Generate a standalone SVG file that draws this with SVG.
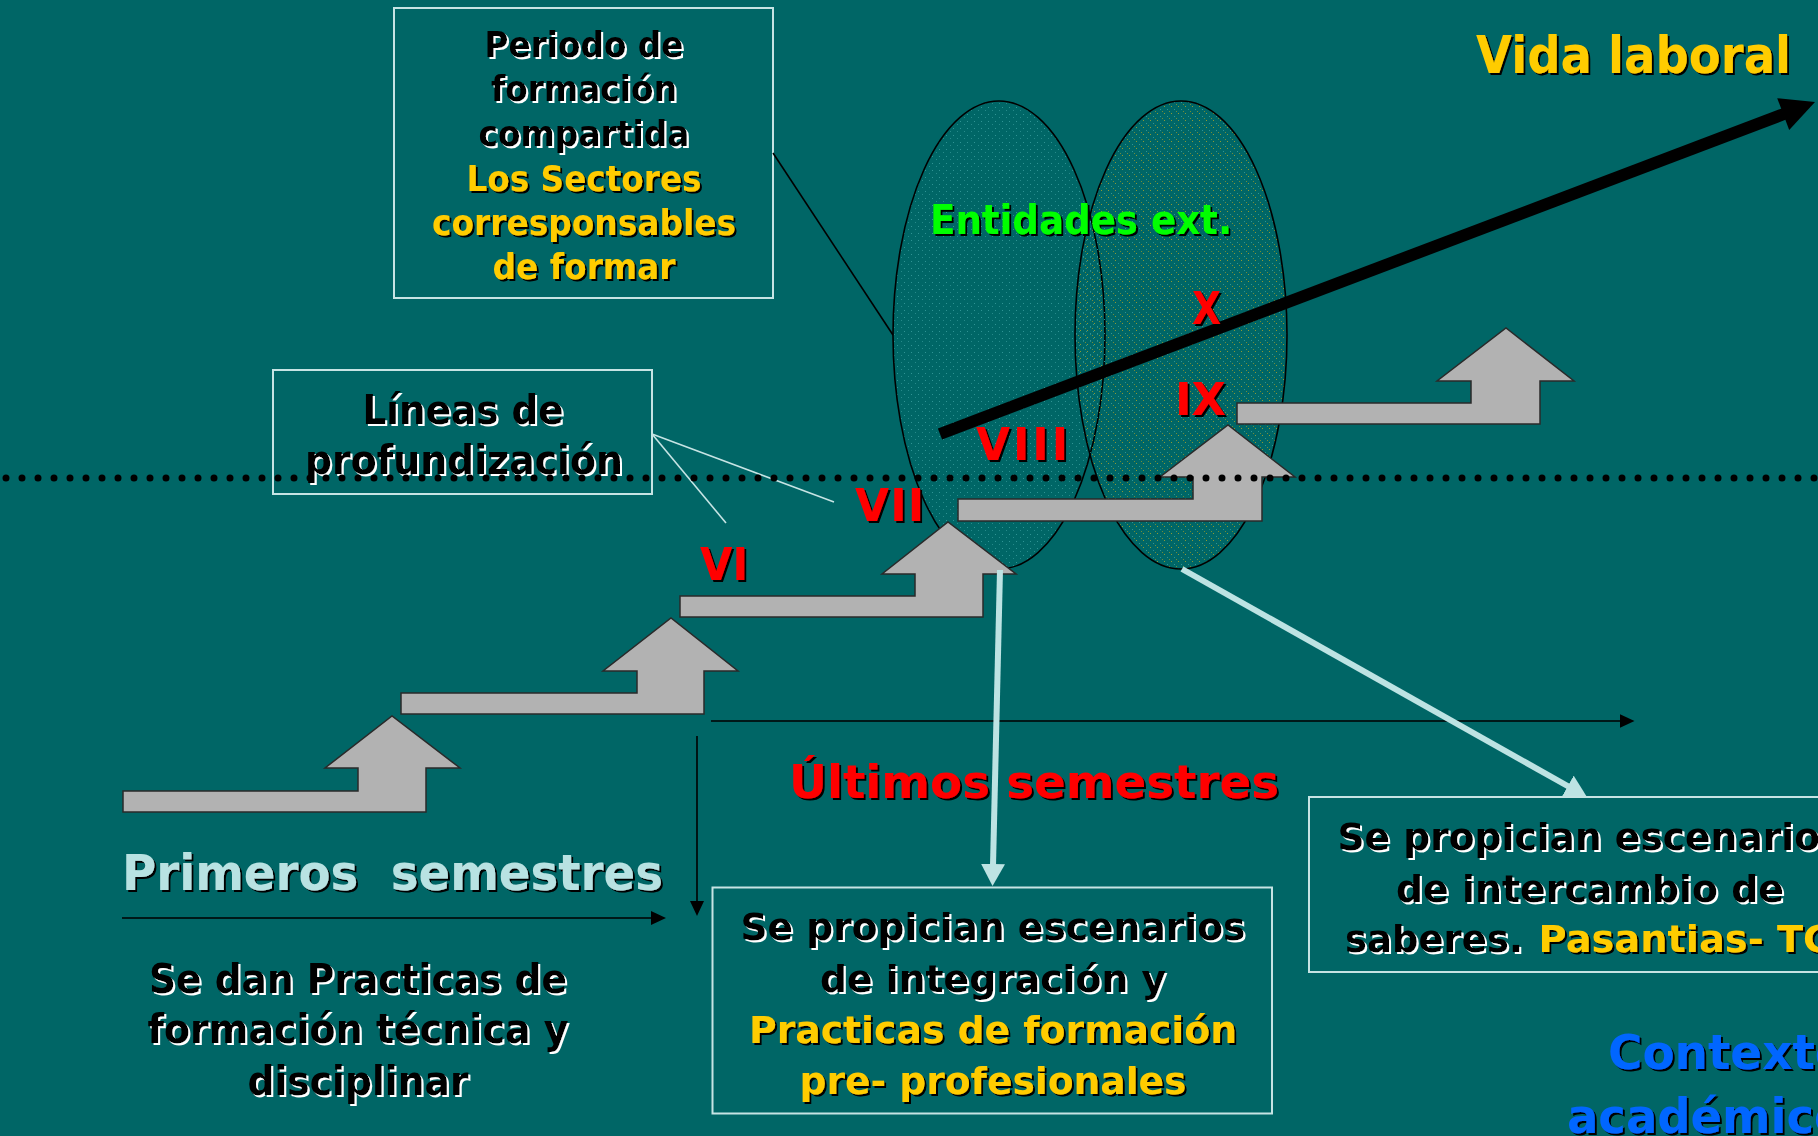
<svg xmlns="http://www.w3.org/2000/svg" width="1818" height="1136" viewBox="0 0 1818 1136">
<style>
.t{font-family:"DejaVu Sans","Liberation Sans",sans-serif;font-weight:bold;}
.c{text-anchor:middle;}
.blk{fill:#000000;filter:url(#shW);}
.yel{fill:#FFCC00;filter:url(#shK);}
.red{fill:#FF0000;filter:url(#shK);}
.grn{fill:#00FF00;filter:url(#shK);}
.cya{fill:#B8E2E2;filter:url(#shK);}
.blu{fill:#0066FF;filter:url(#shK);}
.box{fill:#006666;stroke:#C6E4E4;stroke-width:2;}
.step{fill:#B2B2B2;stroke:#2a2a2a;stroke-width:1.5;stroke-linejoin:miter;}
.thin{stroke:#000;stroke-width:1.6;fill:none;}
.lite{stroke:#C6E4E4;stroke-width:1.6;fill:none;}
.cyan{stroke:#BDE3E3;stroke-width:6;fill:none;}
.ell{stroke:#000;stroke-width:1.6;}
</style>
<defs>
<filter id="shK" x="-5%" y="-20%" width="115%" height="150%"><feDropShadow dx="2" dy="2" stdDeviation="0" flood-color="#000000" flood-opacity="1"/></filter>
<filter id="shW" x="-5%" y="-20%" width="115%" height="150%"><feDropShadow dx="2" dy="2" stdDeviation="0" flood-color="#FFFFFF" flood-opacity="1"/></filter>
<pattern id="dotsL" width="7" height="7" patternUnits="userSpaceOnUse"><rect x="1" y="2" width="1" height="1" fill="#2F9494"/><rect x="5" y="5" width="1" height="1" fill="#268A8A"/></pattern>
<pattern id="dotsR" width="7" height="7" patternUnits="userSpaceOnUse"><rect x="2" y="1" width="1" height="1" fill="#8C9A34"/><rect x="5" y="4" width="1" height="1" fill="#2F9494"/><rect x="0" y="6" width="1" height="1" fill="#6F8C3A"/></pattern>
<marker id="mBlk" markerUnits="userSpaceOnUse" markerWidth="15" markerHeight="14" refX="8" refY="7" orient="auto"><path d="M0,0 L15,7 L0,14 z" fill="#000"/></marker>
<marker id="mCya" markerUnits="userSpaceOnUse" markerWidth="22" markerHeight="24" refX="10" refY="12" orient="auto"><path d="M0,0 L22,12 L0,24 z" fill="#BDE3E3"/></marker>
</defs>
<rect x="0" y="0" width="1818" height="1136" fill="#006666"/>

<g id="ellipse-left"><ellipse cx="999" cy="335" rx="106" ry="234" fill="url(#dotsL)" class="ell"/></g>
<g id="ellipse-right"><ellipse cx="1181" cy="335" rx="106" ry="234" fill="url(#dotsR)" class="ell"/></g>

<g id="box-periodo">
<rect x="394" y="8" width="379" height="290" class="box"/>
<text class="t c blk" x="584" y="57" font-size="36" textLength="199" lengthAdjust="spacingAndGlyphs">Periodo de</text>
<text class="t c blk" x="584" y="101" font-size="36" textLength="186" lengthAdjust="spacingAndGlyphs">formación</text>
<text class="t c blk" x="584" y="146" font-size="36" textLength="211" lengthAdjust="spacingAndGlyphs">compartida</text>
<text class="t c yel" x="584" y="191" font-size="36" textLength="235" lengthAdjust="spacingAndGlyphs">Los Sectores</text>
<text class="t c yel" x="584" y="235" font-size="36" textLength="304" lengthAdjust="spacingAndGlyphs">corresponsables</text>
<text class="t c yel" x="584" y="279" font-size="36" textLength="183" lengthAdjust="spacingAndGlyphs">de formar</text>
</g>

<g id="box-lineas">
<rect x="273" y="370" width="379" height="124" class="box"/>
<text class="t c blk" x="463" y="424" font-size="40" textLength="201" lengthAdjust="spacingAndGlyphs">Líneas de</text>
<text class="t c blk" x="464" y="474" font-size="40" textLength="318" lengthAdjust="spacingAndGlyphs">profundización</text>
</g>

<g id="step-1"><polygon class="step" points="123,791 358,791 358,768 325,768 392,716 460,768 426,768 426,812 123,812"/></g>
<g id="step-2"><polygon class="step" points="401,693 637,693 637,671 603,671 671,618 738,671 704,671 704,714 401,714"/></g>
<g id="step-3"><polygon class="step" points="680,596 915,596 915,574 882,574 948,522 1016,574 983,574 983,617 680,617"/></g>
<g id="step-4"><polygon class="step" points="958,499 1193,499 1193,477 1160,477 1228,425 1295,477 1262,477 1262,521 958,521"/></g>
<g id="step-5"><polygon class="step" points="1237,403 1471,403 1471,381 1437,381 1506,328 1574,381 1540,381 1540,424 1237,424"/></g>

<g id="connectors">
<line class="thin" x1="773" y1="153" x2="893" y2="335"/>
<line class="lite" x1="652" y1="434" x2="726" y2="523"/>
<line class="lite" x1="652" y1="434" x2="834" y2="502"/>
<line x1="940" y1="434" x2="1784" y2="114" stroke="#000" stroke-width="12"/>
<polygon points="1815,102 1789.2,130 1777.2,98.2" fill="#000"/>
<line class="thin" x1="711" y1="721" x2="1627.5" y2="721" marker-end="url(#mBlk)"/>
<line class="thin" x1="697" y1="736" x2="697" y2="909" marker-end="url(#mBlk)"/>
<line class="thin" x1="122" y1="918" x2="659" y2="918" marker-end="url(#mBlk)"/>
<line class="cyan" x1="1000" y1="570" x2="992.8" y2="874" marker-end="url(#mCya)"/>
<line class="cyan" x1="1182" y1="569" x2="1576.5" y2="791" marker-end="url(#mCya)"/>
</g>

<g id="labels">
<text class="t grn" x="930" y="234" font-size="41" textLength="302" lengthAdjust="spacingAndGlyphs">Entidades ext.</text>
<text class="t yel" x="1476" y="73" font-size="52" textLength="315" lengthAdjust="spacingAndGlyphs">Vida laboral</text>
<text class="t red" x="1192" y="324" font-size="44" textLength="29" lengthAdjust="spacingAndGlyphs">X</text>
<text class="t red" x="1175" y="415" font-size="44" textLength="51" lengthAdjust="spacingAndGlyphs">IX</text>
<text class="t red" x="976" y="460" font-size="44" textLength="92" lengthAdjust="spacing">VIII</text>
<text class="t red" x="855" y="521" font-size="44" textLength="69" lengthAdjust="spacing">VII</text>
<text class="t red" x="700" y="580" font-size="44" textLength="48" lengthAdjust="spacingAndGlyphs">VI</text>
<text class="t red" x="789" y="798" font-size="46" textLength="490" lengthAdjust="spacingAndGlyphs">Últimos semestres</text>
<text class="t cya" x="122" y="890" font-size="50" textLength="541" lengthAdjust="spacingAndGlyphs" style="white-space:pre">Primeros  semestres</text>
<text class="t c blk" x="358" y="993" font-size="40" textLength="418" lengthAdjust="spacingAndGlyphs">Se dan Practicas de</text>
<text class="t c blk" x="358" y="1043" font-size="40" textLength="421" lengthAdjust="spacingAndGlyphs">formación técnica y</text>
<text class="t c blk" x="358" y="1095" font-size="40" textLength="221" lengthAdjust="spacingAndGlyphs">disciplinar</text>
<text class="t blu" x="1608" y="1069" font-size="48" textLength="239" lengthAdjust="spacingAndGlyphs">Contexto</text>
<text class="t blu" x="1567" y="1133" font-size="48" textLength="279" lengthAdjust="spacingAndGlyphs">académico</text>
</g>

<g id="dotted-line"><line x1="6" y1="478" x2="1818" y2="478" stroke="#000" stroke-width="7" stroke-linecap="round" stroke-dasharray="0 16"/></g>

<g id="box-integracion">
<rect x="712.5" y="887.5" width="559.5" height="226" class="box"/>
<text class="t c blk" x="993" y="940" font-size="38" textLength="505" lengthAdjust="spacingAndGlyphs">Se propician escenarios</text>
<text class="t c blk" x="993" y="992" font-size="38" textLength="346" lengthAdjust="spacingAndGlyphs">de integración y</text>
<text class="t c yel" x="993" y="1043" font-size="38" textLength="488" lengthAdjust="spacingAndGlyphs">Practicas de formación</text>
<text class="t c yel" x="993" y="1094" font-size="38" textLength="387" lengthAdjust="spacingAndGlyphs">pre- profesionales</text>
</g>

<g id="box-intercambio">
<rect x="1309" y="797" width="540" height="175" class="box"/>
<text class="t blk" x="1337.5" y="850" font-size="38" textLength="505" lengthAdjust="spacingAndGlyphs">Se propician escenarios</text>
<text class="t c blk" x="1590" y="902" font-size="38" textLength="388" lengthAdjust="spacingAndGlyphs">de intercambio de</text>
<text class="t blk" x="1345" y="952" font-size="38" textLength="178" lengthAdjust="spacingAndGlyphs">saberes.</text>
<text class="t yel" x="1538.6" y="952" font-size="38" textLength="296" lengthAdjust="spacingAndGlyphs">Pasantias- TG</text>
</g>
</svg>
